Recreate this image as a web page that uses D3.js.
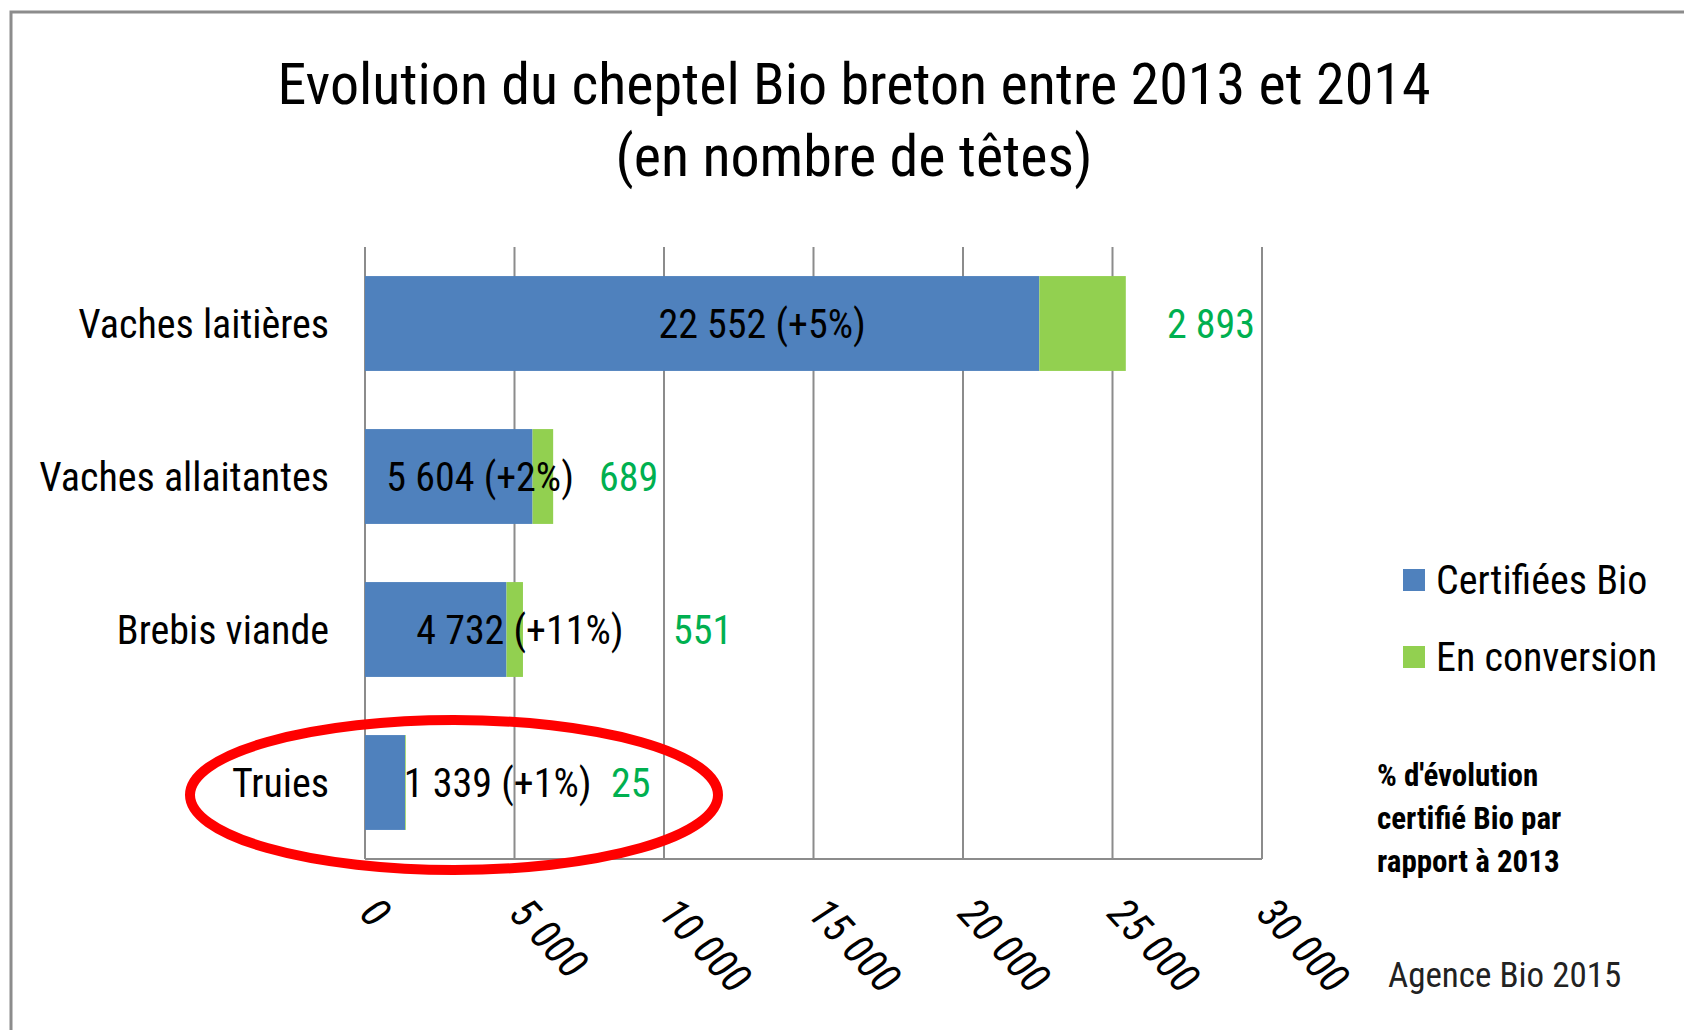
<!DOCTYPE html>
<html>
<head>
<meta charset="utf-8">
<script src="https://cdn.jsdelivr.net/npm/d3@7"></script>
<style>
  html, body { margin: 0; padding: 0; background: #fff; }
  svg { display: block; }
  text { font-family: "Liberation Sans Narrow", "Roboto Condensed", "Open Sans", sans-serif; }
</style>
</head>
<body>
<svg id="chart" width="1684" height="1030"></svg>
<script>
// ---- data ----
const categories = ['Vaches laitières', 'Vaches allaitantes', 'Brebis viande', 'Truies'];
const certifiees = [22552, 5604, 4732, 1339];
const conversion = [2893, 689, 551, 25];
const evolution  = ['+5%', '+2%', '+11%', '+1%'];
const xTicks = [0, 5000, 10000, 15000, 20000, 25000, 30000];

// where Excel's hand-moved labels sit, in data units
const labelAt      = [13280, 3850, 5180, 1300];
const labelAnchor  = ['middle', 'middle', 'middle', 'start'];
const greenLabelAt = [26820, 7830, 10300, 8230];

const BLUE = '#4F81BD', GREEN = '#92D050', GREEN_TXT = '#00B050', GRID = '#8c8c8c';

const fmt = n => d3.format(',')(n).replace(/,/g, ' ');

const svg = d3.select('#chart');

// frame
svg.append('path')
  .attr('d', 'M11,1030 L11,12 L1684,12')
  .attr('fill', 'none').attr('stroke', GRID).attr('stroke-width', 3);

// title
const title = svg.append('text').attr('text-anchor', 'middle')
  .attr('font-size', 58).attr('fill', '#000');
title.append('tspan').attr('x', 854).attr('y', 104).text('Evolution du cheptel Bio breton entre 2013 et 2014');
title.append('tspan').attr('x', 854).attr('y', 176).text('(en nombre de têtes)');

const m = { l: 365, r: 1262, t: 247, b: 859 };
const x = d3.scaleLinear().domain([0, 30000]).range([m.l, m.r]);
const y = d3.scaleBand().domain(categories).range([m.t, m.b]).paddingInner(0.38).paddingOuter(0.19);

// gridlines
svg.append('g').selectAll('line').data(xTicks).join('line')
  .attr('x1', d => x(d)).attr('x2', d => x(d))
  .attr('y1', m.t).attr('y2', m.b)
  .attr('stroke', GRID).attr('stroke-width', 2);
svg.append('line')
  .attr('x1', m.l).attr('x2', m.r).attr('y1', m.b).attr('y2', m.b)
  .attr('stroke', GRID).attr('stroke-width', 2);

// tick labels, rotated
svg.append('g').selectAll('text').data(xTicks).join('text')
  .attr('transform', d => `translate(${x(d) - 7},${m.b + 56}) rotate(47)`)
  .attr('font-size', 42).attr('font-style', 'italic').attr('fill', '#000')
  .text(d => fmt(d));

// bars
const rows = categories.map((c, i) => ({ c, i, a: certifiees[i], b: conversion[i] }));
svg.append('g').selectAll('rect').data(rows).join('rect')
  .attr('x', x(0)).attr('y', d => y(d.c))
  .attr('width', d => x(d.a) - x(0)).attr('height', y.bandwidth())
  .attr('fill', BLUE);
svg.append('g').selectAll('rect').data(rows).join('rect')
  .attr('x', d => x(d.a)).attr('y', d => y(d.c))
  .attr('width', d => x(d.a + d.b) - x(d.a)).attr('height', y.bandwidth())
  .attr('fill', GREEN);

// category labels
svg.append('g').selectAll('text').data(rows).join('text')
  .attr('x', 329).attr('y', d => y(d.c) + y.bandwidth() / 2)
  .attr('dy', '0.35em').attr('text-anchor', 'end')
  .attr('font-size', 40).attr('fill', '#000')
  .text(d => d.c);

// value labels
svg.append('g').selectAll('text').data(rows).join('text')
  .attr('x', d => x(labelAt[d.i])).attr('y', d => y(d.c) + y.bandwidth() / 2)
  .attr('dy', '0.35em').attr('text-anchor', d => labelAnchor[d.i])
  .attr('font-size', 40).attr('fill', '#000')
  .text(d => `${fmt(d.a)} (${evolution[d.i]})`);
svg.append('g').selectAll('text').data(rows).join('text')
  .attr('x', d => x(greenLabelAt[d.i])).attr('y', d => y(d.c) + y.bandwidth() / 2)
  .attr('dy', '0.35em')
  .attr('font-size', 40).attr('fill', GREEN_TXT)
  .text(d => fmt(d.b));

// legend
const legend = svg.append('g');
[['Certifiées Bio', BLUE, 580], ['En conversion', GREEN, 657]].forEach(([t, col, cy]) => {
  legend.append('rect').attr('x', 1403).attr('y', cy - 11).attr('width', 22).attr('height', 22).attr('fill', col);
  legend.append('text').attr('x', 1436).attr('y', cy).attr('dy', '0.35em')
    .attr('font-size', 40).attr('fill', '#000').text(t);
});

// note
const note = svg.append('text').attr('font-size', 31).attr('font-weight', 'bold').attr('fill', '#000');
['% d\'évolution', 'certifié Bio par', 'rapport à 2013'].forEach((t, i) => {
  note.append('tspan').attr('x', 1377).attr('y', 786 + i * 43).text(t);
});

svg.append('text').attr('x', 1388).attr('y', 987)
  .attr('font-size', 35).attr('fill', '#222').text('Agence Bio 2015');

// red highlight around Truies
svg.append('ellipse')
  .attr('cx', 454).attr('cy', 795).attr('rx', 264).attr('ry', 75)
  .attr('fill', 'none').attr('stroke', '#ff0000').attr('stroke-width', 10);
</script>
</body>
</html>
